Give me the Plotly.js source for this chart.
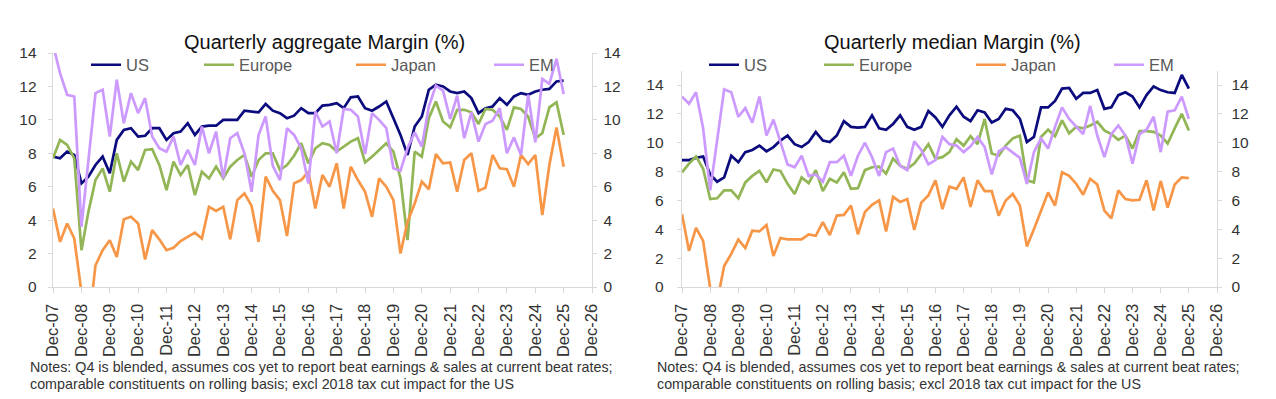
<!DOCTYPE html>
<html>
<head>
<meta charset="utf-8">
<script src="https://cdn.plot.ly/plotly-3.0.1.min.js"></script>
<style>html,body{margin:0;padding:0;background:#fff;}#chart{width:1276px;height:399px;}</style>
</head>
<body>
<div id="chart"></div>
<script>
// Quarter-end dates (Dec-07 .. Dec-25)
const quarters = [
 '2007-12-31',
 '2008-03-31','2008-06-30','2008-09-30','2008-12-31',
 '2009-03-31','2009-06-30','2009-09-30','2009-12-31',
 '2010-03-31','2010-06-30','2010-09-30','2010-12-31',
 '2011-03-31','2011-06-30','2011-09-30','2011-12-31',
 '2012-03-31','2012-06-30','2012-09-30','2012-12-31',
 '2013-03-31','2013-06-30','2013-09-30','2013-12-31',
 '2014-03-31','2014-06-30','2014-09-30','2014-12-31',
 '2015-03-31','2015-06-30','2015-09-30','2015-12-31',
 '2016-03-31','2016-06-30','2016-09-30','2016-12-31',
 '2017-03-31','2017-06-30','2017-09-30','2017-12-31',
 '2018-03-31','2018-06-30','2018-09-30','2018-12-31',
 '2019-03-31','2019-06-30','2019-09-30','2019-12-31',
 '2020-03-31','2020-06-30','2020-09-30','2020-12-31',
 '2021-03-31','2021-06-30','2021-09-30','2021-12-31',
 '2022-03-31','2022-06-30','2022-09-30','2022-12-31',
 '2023-03-31','2023-06-30','2023-09-30','2023-12-31',
 '2024-03-31','2024-06-30','2024-09-30','2024-12-31',
 '2025-03-31','2025-06-30','2025-09-30','2025-12-31'
];

const tickDates = ['2007-12-31','2008-12-31','2009-12-31','2010-12-31','2011-12-31','2012-12-31','2013-12-31',
 '2014-12-31','2015-12-31','2016-12-31','2017-12-31','2018-12-31','2019-12-31','2020-12-31','2021-12-31',
 '2022-12-31','2023-12-31','2024-12-31','2025-12-31','2026-12-31'];
const tickLabels = ['Dec-07','Dec-08','Dec-09','Dec-10','Dec-11','Dec-12','Dec-13','Dec-14','Dec-15','Dec-16',
 'Dec-17','Dec-18','Dec-19','Dec-20','Dec-21','Dec-22','Dec-23','Dec-24','Dec-25','Dec-26'];

const seriesNames = ['US','Europe','Japan','EM'];

// Quarterly aggregate margin (%)
const aggUS = [7.8,7.7,8.1,7.9,6.2,6.6,7.3,7.8,6.8,8.8,9.4,9.5,9.0,9.05,9.5,9.5,8.8,9.2,9.3,9.8,9.1,9.6,9.65,9.65,10.0,10.0,10.0,10.55,10.5,10.45,10.95,10.55,10.4,10.1,10.25,10.7,10.4,10.4,10.85,10.9,11.0,10.7,11.35,11.4,10.7,10.55,10.8,11.1,10.1,9.1,7.9,9.6,10.2,11.8,12.1,12.0,11.7,11.6,11.7,11.3,10.4,10.7,10.8,11.3,10.9,11.4,11.6,11.5,11.7,11.8,11.85,12.3,12.35];
const aggEurope = [7.7,8.8,8.5,7.7,2.2,4.5,6.4,7.1,5.7,8.0,6.3,7.5,7.0,8.2,8.25,7.3,5.8,7.5,6.7,7.3,5.5,6.9,6.5,7.2,6.5,7.2,7.6,7.9,6.6,7.6,8.0,8.0,7.0,7.3,7.85,8.6,7.4,8.3,8.6,8.5,8.1,8.4,8.7,8.9,7.45,7.8,8.2,8.6,8.1,6.5,2.8,8.1,7.8,10.1,11.1,9.9,9.55,10.6,10.6,10.45,9.75,10.65,10.6,10.2,9.4,10.75,10.65,10.2,8.9,9.2,10.75,11.05,9.1];
const aggJapan = [4.7,2.7,3.8,2.9,-0.3,-2.5,1.3,2.2,2.8,1.8,4.05,4.2,3.8,1.65,3.4,2.85,2.2,2.35,2.75,3.0,3.25,2.9,4.8,4.55,4.8,2.85,5.2,5.6,4.85,2.7,6.6,5.75,5.2,3.05,6.2,6.4,6.9,4.7,6.7,6.0,7.4,4.7,7.2,6.4,5.7,4.2,6.5,6.0,5.2,2.0,3.9,5.0,6.3,5.85,7.95,7.4,7.45,5.7,7.6,8.0,5.75,5.95,7.9,7.1,7.05,6.0,7.9,7.35,7.9,4.3,7.3,9.55,7.2];
const aggEM = [14.5,12.8,11.5,11.4,3.6,7.6,11.6,11.8,9.0,12.4,9.8,11.6,10.4,11.3,9.0,8.3,8.1,9.0,7.3,8.2,7.3,9.6,8.0,9.3,6.5,8.9,9.2,8.0,5.7,9.1,10.2,7.25,6.4,9.5,9.1,8.3,6.2,10.5,9.6,9.9,8.0,10.65,10.6,10.2,7.95,10.4,10.0,9.5,7.1,6.95,8.3,9.25,8.4,10.8,12.05,11.75,10.05,11.45,8.9,10.45,8.7,9.75,9.95,10.7,8.0,8.95,7.9,11.5,8.65,12.45,12.15,13.65,11.55];

// Quarterly median margin (%)
const medUS = [8.8,8.8,8.95,9.05,7.8,7.3,7.6,9.1,8.65,9.35,9.5,9.8,9.4,9.7,10.15,10.5,9.9,9.7,10.05,10.75,10.15,10.05,10.5,11.5,11.1,11.05,11.1,11.9,11.0,10.9,11.3,11.9,11.1,10.9,11.1,12.2,11.75,11.1,11.9,12.5,11.8,11.5,12.25,12.1,11.4,11.65,12.35,12.25,11.65,10.05,10.4,12.45,12.45,12.9,13.75,13.8,13.05,13.45,13.45,13.65,12.35,12.45,13.3,13.5,13.2,12.45,13.3,13.9,13.65,13.5,13.45,14.7,13.75];
const medEurope = [7.95,8.55,9.05,8.2,6.1,6.15,6.7,6.7,6.15,7.25,7.7,8.05,7.25,8.15,8.05,7.15,6.45,7.6,7.2,8.1,6.65,7.5,7.25,7.95,6.8,6.85,8.1,8.3,8.35,7.85,8.9,8.4,8.2,8.55,9.2,9.9,8.9,9.0,9.35,10.25,9.8,10.45,9.9,11.65,9.25,9.1,9.8,10.3,10.5,7.4,7.25,10.4,10.9,10.45,11.55,10.65,11.1,11.0,11.2,11.45,10.85,10.6,10.2,10.5,9.6,10.8,10.8,10.75,10.5,9.95,11.0,12.0,10.85];
const medJapan = [5.05,2.5,4.1,3.2,-0.1,-1.0,1.45,2.3,3.3,2.7,3.9,3.85,4.3,2.15,3.4,3.3,3.3,3.3,3.65,3.55,4.5,3.6,4.95,5.0,5.65,3.65,5.2,5.7,6.0,3.85,6.25,5.9,6.1,3.95,5.85,6.35,7.4,5.4,6.95,6.8,7.6,5.55,7.4,6.65,6.65,4.95,6.0,6.45,5.65,2.8,4.0,5.3,6.55,5.65,7.95,7.7,7.15,6.4,7.5,7.1,5.3,4.75,6.7,6.1,6.0,6.05,7.4,5.3,7.35,5.5,7.1,7.6,7.55];
const medEM = [13.2,12.7,13.5,11.0,6.7,10.2,13.7,13.5,11.8,12.4,11.4,13.2,10.5,11.6,10.0,8.5,8.3,9.1,7.7,7.8,7.3,8.65,8.65,9.1,7.7,9.1,10.0,9.0,7.7,9.35,9.6,8.4,8.1,10.1,9.5,8.5,8.8,10.4,9.9,9.8,9.35,9.75,10.4,9.7,7.8,9.4,9.7,9.35,8.95,7.15,9.35,10.3,9.6,11.1,12.45,11.65,11.1,10.6,12.55,10.5,9.0,10.6,11.2,10.5,8.55,10.6,10.9,11.8,9.35,12.15,12.25,13.2,11.65];

const titles = ['Quarterly aggregate Margin (%)','Quarterly median Margin (%)'];
const noteLines = ['Notes: Q4 is blended, assumes cos yet to report beat earnings & sales at current beat rates;',
 'comparable constituents on rolling basis; excl 2018 tax cut impact for the US'];

const colors = ['#0b0b7d','#92b556','#f79646','#cc99ff'];
const W = 1276, H = 399;
const px = v => v / W, py = v => (H - v) / H;

const aggData = [aggUS, aggEurope, aggJapan, aggEM];
const medData = [medUS, medEurope, medJapan, medEM];
const legendX = [[92,205,357,495],[710,825,977,1115]];

const traces = [];
const layout = {
  width: W, height: H,
  margin: {l:0, r:0, t:0, b:0},
  paper_bgcolor: '#ffffff', plot_bgcolor: 'rgba(0,0,0,0)',
  font: {family: 'Liberation Sans, Arial, sans-serif', color: '#333333'},
  showlegend: true,
  annotations: [], shapes: []
};

[aggData, medData].forEach((data, p) => {
  // invisible carrier trace so the secondary (right-hand) value axis is drawn
  traces.push({
    type: 'scatter', mode: 'lines', x: quarters, y: data[0],
    xaxis: p === 0 ? 'x' : 'x2', yaxis: p === 0 ? 'y3' : 'y4',
    line: {color: 'rgba(0,0,0,0)', width: 0}, opacity: 0,
    showlegend: false, hoverinfo: 'skip'
  });
  data.forEach((vals, i) => {
    const legId = 'legend' + (p * 4 + i === 0 ? '' : (p * 4 + i + 1));
    traces.push({
      type: 'scatter', mode: 'lines', name: seriesNames[i],
      x: quarters, y: vals,
      xaxis: p === 0 ? 'x' : 'x2', yaxis: p === 0 ? 'y' : 'y2',
      line: {color: colors[i], width: 2.7},
      legend: legId, hoverinfo: 'skip'
    });
    layout[legId] = {
      x: px(legendX[p][i] - 6), y: py(65), xanchor: 'left', yanchor: 'middle',
      orientation: 'h', bgcolor: 'rgba(0,0,0,0)', borderwidth: 0,
      font: {size: 16.5, color: '#595959'}, itemwidth: 30
    };
  });
});

const xBase = {
  type: 'date', range: ['2007-12-31','2026-12-31'],
  tickmode: 'array', tickvals: tickDates, ticktext: tickLabels,
  tickangle: -90, tickfont: {size: 16.5, color: '#333333'},
  showline: true, linecolor: '#d9d9d9', linewidth: 1.3,
  ticks: 'outside', ticklen: 5, tickcolor: '#d9d9d9',
  showgrid: false, zeroline: false, fixedrange: true, ticklabelstandoff: 4
};
const yBase = {
  showline: true, linecolor: '#d9d9d9', linewidth: 1.3,
  ticks: 'outside', ticklen: 4, tickcolor: '#d9d9d9',
  showgrid: false, zeroline: false, dtick: 2, tick0: 0,
  tickfont: {size: 15.5, color: '#333333'}, fixedrange: true
};

layout.xaxis = Object.assign({}, xBase, {domain: [px(53), px(592)], anchor: 'y'});
layout.xaxis2 = Object.assign({}, xBase, {domain: [px(682), px(1217)], anchor: 'y2'});
layout.yaxis = Object.assign({}, yBase, {domain: [1 - 287/H, 1 - 53/H], range: [0,14], anchor: 'x', ticklabelstandoff: 8});
layout.yaxis3 = Object.assign({}, yBase, {overlaying: 'y', side: 'right', range: [0,14], anchor: 'x', ticklabelstandoff: 3});
layout.yaxis2 = Object.assign({}, yBase, {domain: [1 - 287/H, 1 - 70.6/H], range: [0,15], anchor: 'x2', ticklabelstandoff: 10});
layout.yaxis4 = Object.assign({}, yBase, {overlaying: 'y2', side: 'right', range: [0,15], anchor: 'x2', ticklabelstandoff: 6});

// titles
[[324, titles[0]], [952, titles[1]]].forEach(([cx, t]) => {
  layout.annotations.push({
    text: t, xref: 'paper', yref: 'paper', x: px(cx), y: py(42),
    xanchor: 'center', yanchor: 'middle', showarrow: false,
    font: {size: 20, color: '#111111'}
  });
});
// notes
[28, 655].forEach(nx => {
  noteLines.forEach((line, k) => {
    layout.annotations.push({
      text: line, xref: 'paper', yref: 'paper', x: px(nx), y: py(k === 0 ? 367 : 384),
      xanchor: 'left', yanchor: 'middle', showarrow: false,
      font: {size: 14.3, color: '#333333'}
    });
  });
});

Plotly.newPlot('chart', traces, layout, {displayModeBar: false, staticPlot: true});
</script>
</body>
</html>
